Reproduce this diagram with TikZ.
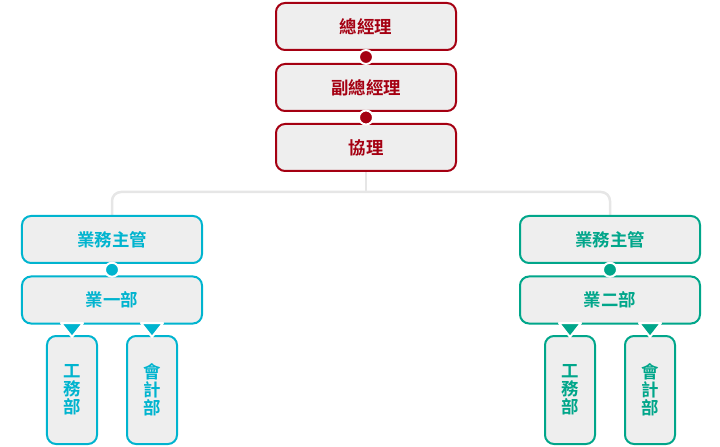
\documentclass[tikz,border=0pt]{standalone}
\usepackage{fontspec}
\newfontfamily\cjk{Noto Sans CJK TC}[UprightFont=* Bold]
\usetikzlibrary{positioning, calc, backgrounds}

\definecolor{bossred}{HTML}{A50012}
\definecolor{teamcyan}{HTML}{00B4CF}
\definecolor{teamgreen}{HTML}{00A68A}
\definecolor{boxgray}{HTML}{EEEEEE}
\definecolor{linkgray}{HTML}{E6E6E6}

\tikzset{
  box/.style={draw, line width=2bp, rounded corners=9bp, fill=boxgray,
    minimum width=180bp, minimum height=47bp, inner sep=0pt,
    font=\cjk\fontsize{17.5}{18}\selectfont},
  hq/.style={box, draw=bossred, text=bossred},
  teamA/.style={box, draw=teamcyan, text=teamcyan},
  teamB/.style={box, draw=teamgreen, text=teamgreen},
  dept/.style={minimum width=50bp, minimum height=108bp, align=center},
  dot/.style={circle, draw=white, line width=2bp, inner sep=0pt, minimum size=14bp},
  link/.style={draw=linkgray, line width=2.5bp, rounded corners=9bp},
  tip/.style={draw=white, line width=2bp, line join=round}
}

\begin{document}
\begin{tikzpicture}[x=1bp, y=-1bp, node distance=61bp, on grid]
  \useasboundingbox (0,0) rectangle (720,447);

  % head office
  \node[hq] (ceo) at (366,26.5) {總經理};
  \node[hq] (vp) [below=of ceo] {副總經理};
  \node[hq] (assoc) [below=60bp of vp] {協理};
  \node[dot, fill=bossred] at ($(ceo.south)!.5!(vp.north)$) {};
  \node[dot, fill=bossred] at ($(vp.south)!.5!(assoc.north)$) {};

  % team one
  \node[teamA] (mgrA) at (112,239.5) {業務主管};
  \node[teamA] (secA) [below=60.5bp of mgrA] {業一部};
  \node[teamA, dept] (worksA) [below left=90bp and 40bp of secA] {工\\務\\部};
  \node[teamA, dept] (acctA) [below right=90bp and 40bp of secA] {會\\計\\部};
  \node[dot, fill=teamcyan] at ($(mgrA.south)!.5!(secA.north)$) {};

  % team two
  \node[teamB] (mgrB) at (610,239.5) {業務主管};
  \node[teamB] (secB) [below=60.5bp of mgrB] {業二部};
  \node[teamB, dept] (worksB) [below left=90bp and 40bp of secB] {工\\務\\部};
  \node[teamB, dept] (acctB) [below right=90bp and 40bp of secB] {會\\計\\部};
  \node[dot, fill=teamgreen] at ($(mgrB.south)!.5!(secB.north)$) {};

  % markers
  \foreach \n/\c in {worksA/teamcyan, acctA/teamcyan, worksB/teamgreen, acctB/teamgreen}
    \filldraw[tip, fill=\c] ([shift={(-11,-12)}]\n.north) -- ([shift={(11,-12)}]\n.north)
      -- ([shift={(0,2)}]\n.north) -- cycle;

  % links
  \coordinate (hub) at ($(assoc.south)+(0,20)$);
  \begin{scope}[on background layer]
    \draw[link] (mgrA.north) |- (hub) -| (mgrB.north);
    \draw[link] (assoc.south) -- (hub);
  \end{scope}
\end{tikzpicture}
\end{document}
